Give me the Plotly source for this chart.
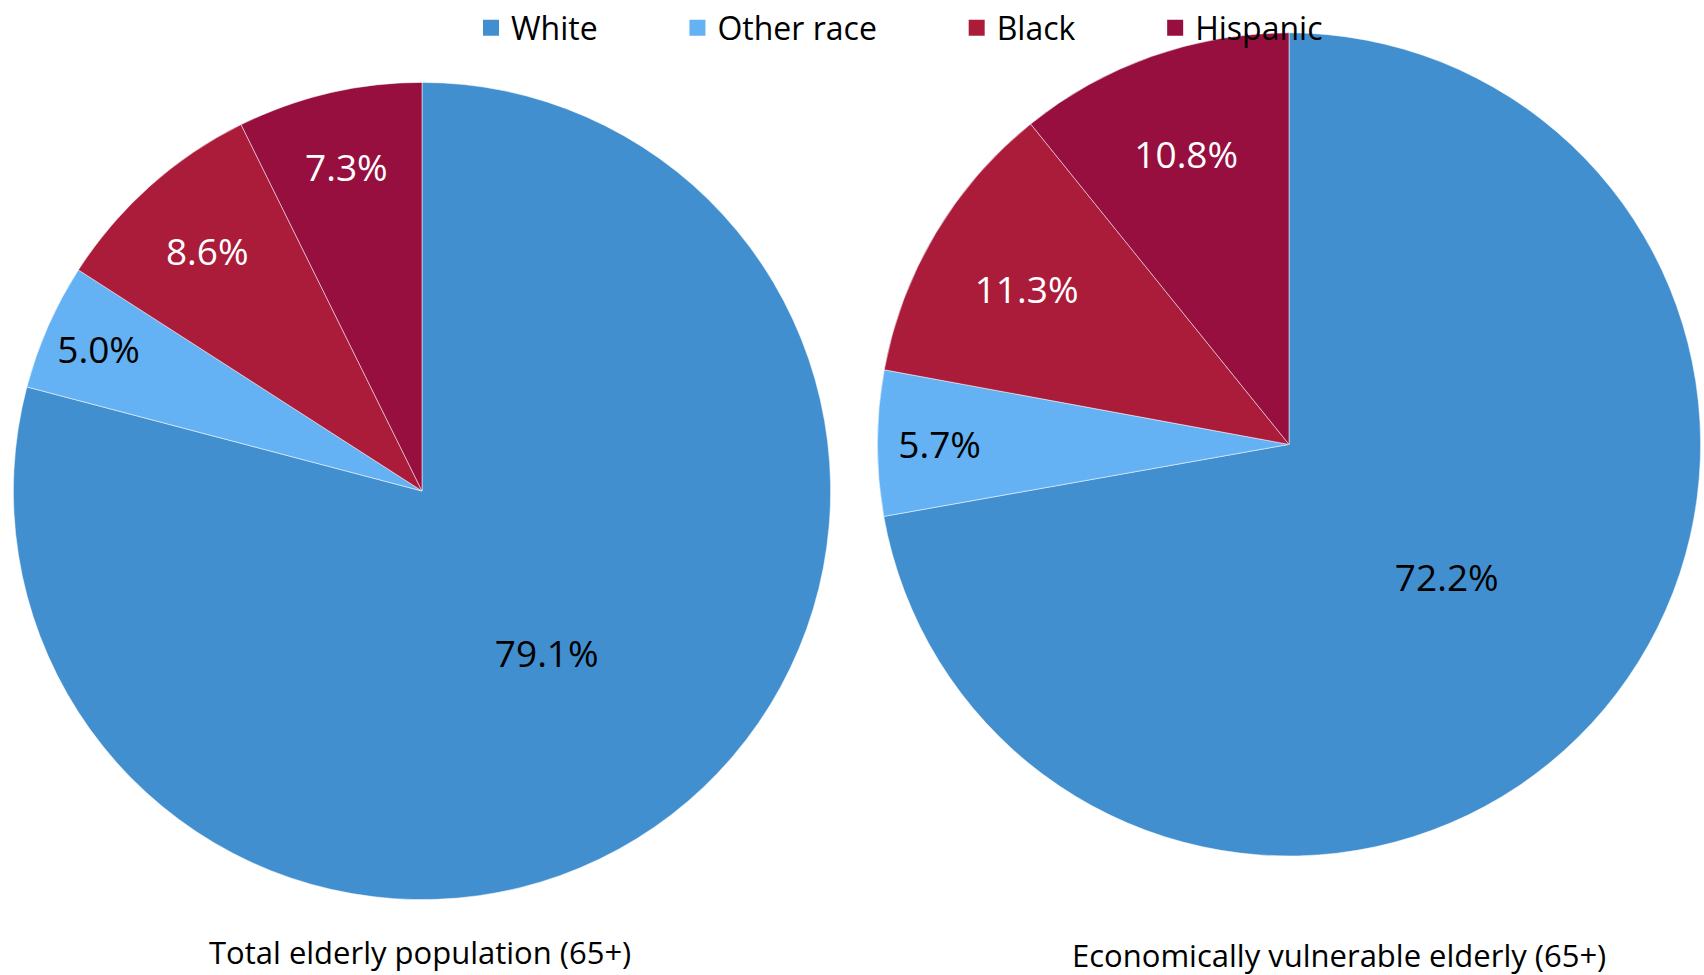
import plotly.graph_objects as go

labels = ["White", "Other race", "Black", "Hispanic"]
total_elderly = [79.1, 5.0, 8.6, 7.3]
vulnerable_elderly = [72.2, 5.7, 11.3, 10.8]
colors = ["#428FCF", "#64B2F3", "#AB1C3B", "#960F3F"]
text_colors = ["black", "black", "white", "white"]
titles = ["Total elderly population (65+)", "Economically vulnerable elderly (65+)"]

pad = "\u00a0" * 9

W, H = 1704, 975

def dom(cx, cy, r):
    return dict(x=[(cx - r) / W, (cx + r) / W], y=[1 - (cy + r) / H, 1 - (cy - r) / H])

label_font = dict(family="Open Sans, Noto Sans, sans-serif", size=37, color=text_colors)

fig = go.Figure()
fig.add_trace(go.Pie(
    labels=labels, values=total_elderly, sort=False, direction="clockwise", rotation=0,
    marker=dict(colors=colors, line=dict(color="white", width=0.5)),
    texttemplate="%{value:.1f}%", textposition="inside", insidetextorientation="horizontal",
    textfont=label_font, domain=dom(422, 487, 412), hoverinfo="label+value", showlegend=False,
))
fig.add_trace(go.Pie(
    labels=labels, values=vulnerable_elderly, sort=False, direction="clockwise", rotation=0,
    marker=dict(colors=colors, line=dict(color="white", width=0.5)),
    texttemplate="%{value:.1f}%", textposition="inside", insidetextorientation="horizontal",
    textfont=label_font, domain=dom(1289, 440, 415), hoverinfo="label+value", showlegend=False,
))

# legend entries (square swatches)
for lab, col in zip(labels, colors):
    fig.add_trace(go.Scatter(x=[None], y=[None], mode="markers", name=lab + pad,
                             marker=dict(symbol="square", size=19, color=col), showlegend=True,
                             hoverinfo="skip"))

for tx, cx, cy in [(titles[0], 420, 952), (titles[1], 1339, 955)]:
    fig.add_annotation(text=tx, x=cx / W, y=1 - cy / H, xref="paper", yref="paper",
                       xanchor="center", yanchor="middle", showarrow=False,
                       font=dict(family="Open Sans, Noto Sans, sans-serif", size=31, color="black"))

fig.update_layout(
    width=W, height=H, margin=dict(l=0, r=0, t=0, b=0),
    paper_bgcolor="white", plot_bgcolor="rgba(0,0,0,0)",
    xaxis=dict(visible=False), yaxis=dict(visible=False),
    showlegend=True,
    legend=dict(orientation="h", x=471 / W, y=1 - 20 / H, xanchor="left", yanchor="middle",
                itemsizing="trace",
                font=dict(family="Open Sans, Noto Sans, sans-serif", size=32, color="black"),
                bgcolor="rgba(0,0,0,0)"),
)

fig.write_html("out.html", config={"displayModeBar": False},
               post_script="document.body.style.margin='0';")
